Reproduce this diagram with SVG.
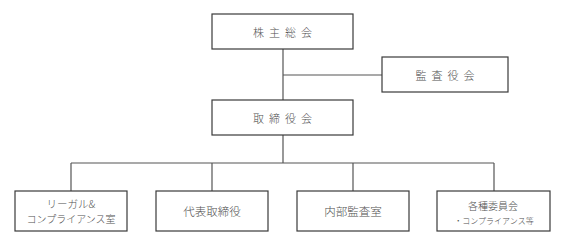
<svg xmlns="http://www.w3.org/2000/svg" width="565" height="245" viewBox="0 0 565 245">
<style>
.box{fill:#fff;stroke:#3a3a3a;stroke-width:1.2}
.ln{fill:none;stroke:#555;stroke-width:1.2}
text{font-family:"Noto Sans CJK JP","Noto Sans",sans-serif;font-weight:300;fill:#505050;text-anchor:middle;dominant-baseline:central}
.t1{font-size:11px;letter-spacing:5px}
.t2{font-size:11.5px}
</style>
<rect width="565" height="245" fill="#fff"/>
<g id="connectors">
<path class="ln" d="M283 49V100M283 75H382M283 135V163M71 163H494M71 163V191M212 163V191M353 163V191M494 163V191"/>
</g>
<g id="n1"><rect class="box" x="212" y="14" width="141" height="35"/><text class="t1" x="285" y="31.5">株主総会</text></g>
<g id="n2"><rect class="box" x="382" y="57" width="126" height="35"/><text class="t1" x="447.5" y="74.5">監査役会</text></g>
<g id="n3"><rect class="box" x="212" y="100" width="141" height="35"/><text class="t1" x="285" y="117.5">取締役会</text></g>
<g id="n4"><rect class="box" x="15" y="191" width="112" height="40"/><text x="71" y="203.5" style="font-size:10.5px">リーガル&amp;</text><text x="71" y="218.5" style="font-size:10px">コンプライアンス室</text></g>
<g id="n5"><rect class="box" x="156" y="191" width="112" height="40"/><text class="t2" x="212" y="211">代表取締役</text></g>
<g id="n6"><rect class="box" x="297" y="191" width="112" height="40"/><text class="t2" x="353" y="211">内部監査室</text></g>
<g id="n7"><rect class="box" x="437" y="191" width="113" height="40"/><text x="493" y="205" style="font-size:10px">各種委員会</text><text x="494" y="220" style="font-size:8px">・コンプライアンス等</text></g>
</svg>
